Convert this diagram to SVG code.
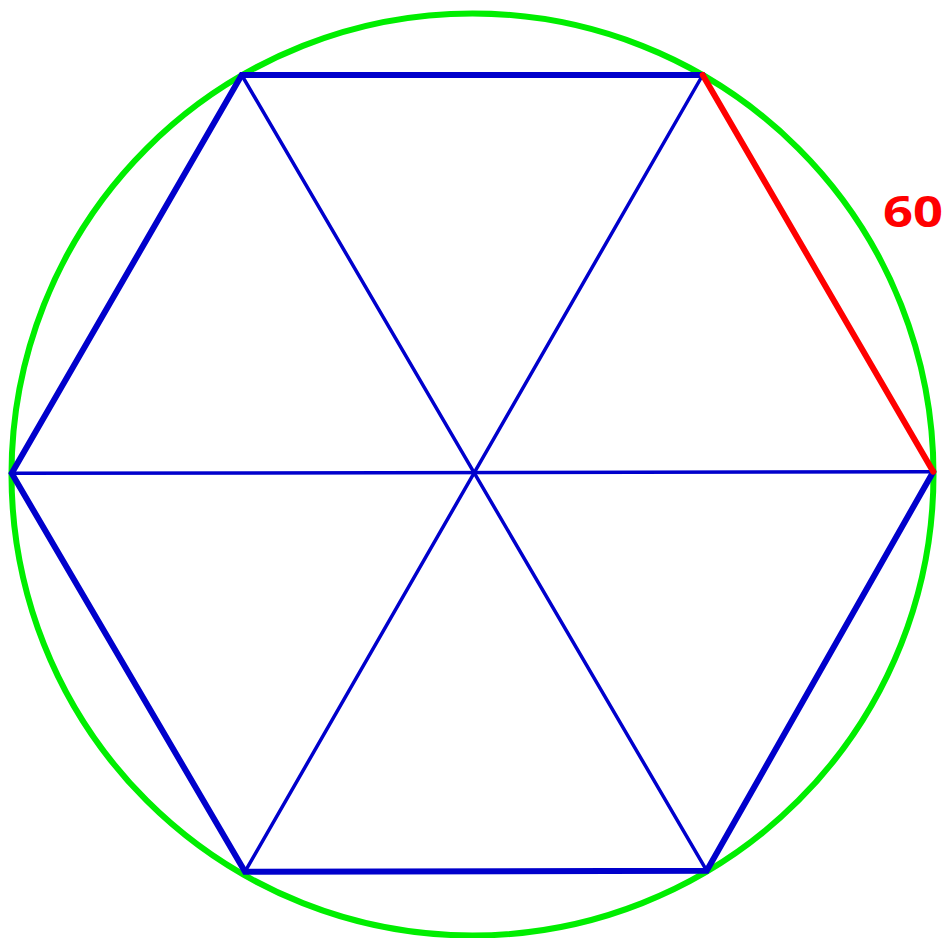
<svg xmlns="http://www.w3.org/2000/svg" width="943" height="938" viewBox="0 0 943 938">
<style>
.thick{stroke:#0000cc;stroke-width:6;stroke-linecap:round;fill:none}
.thin{stroke:#0000cc;stroke-width:3.5;stroke-linecap:round;fill:none}
.red{stroke:#ff0000;stroke-width:6;stroke-linecap:round}
.lbl{font-family:"Open Sans","Noto Sans",sans-serif;font-weight:bold;font-size:43px;fill:#ff0000}
</style>
<rect width="943" height="938" fill="#ffffff"/>
<g id="circle"><circle cx="472.5" cy="474.5" r="461" fill="none" stroke="#00ee00" stroke-width="6"/></g>
<g id="connectors">
<line class="thin" x1="241.7" y1="75" x2="706.7" y2="870.7"/>
<line class="thin" x1="702.7" y1="75" x2="245" y2="871.7"/>
<line class="thin" x1="11.7" y1="473.3" x2="933.3" y2="471.7"/>
<polyline class="thick" points="702.7,75 241.7,75 11.7,473.3 245,871.7 706.7,870.7 933.3,471.7"/>
<line class="red" x1="702.7" y1="75" x2="933.3" y2="471.7"/>
</g>
<g id="label"><text class="lbl" x="883" y="227" textLength="60" lengthAdjust="spacingAndGlyphs">60</text></g>
</svg>
